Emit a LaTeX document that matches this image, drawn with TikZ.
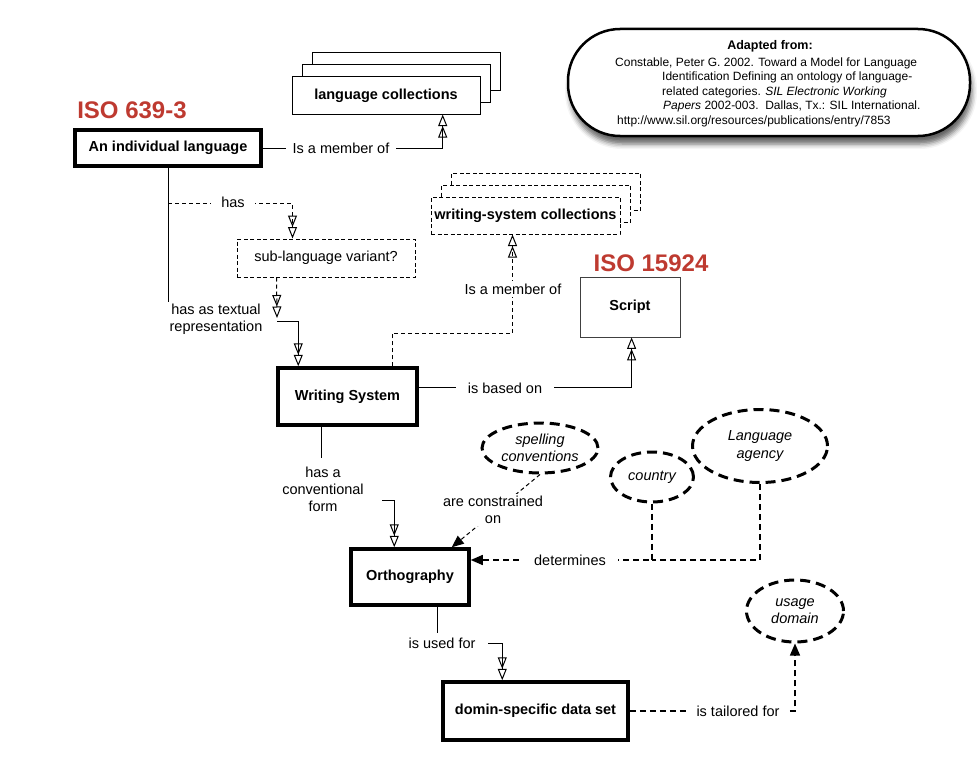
\documentclass[tikz,border=0pt]{standalone}
\usepackage{fontspec}
\setmainfont{Liberation Sans}
\usetikzlibrary{arrows.meta,shapes.geometric,calc,shadows.blur}
\definecolor{isored}{RGB}{190,58,48}
\begin{document}
\begin{tikzpicture}[x=1pt,y=-1pt,
  every node/.style={font=\fontsize{14.5}{17}\selectfont, inner sep=0pt},
  heavybox/.style={draw, line width=3.5pt, fill=white, align=center, font=\bfseries\fontsize{14.5}{17}\selectfont},
  thinbox/.style={draw, line width=1pt, fill=white, align=center, font=\bfseries\fontsize{14.5}{17}\selectfont},
  dashbox/.style={draw, line width=1pt, dash pattern=on 4pt off 2.5pt, fill=white, align=center},
  ellip/.style={ellipse, draw, line width=3pt, dash pattern=on 10pt off 6pt, fill=white, align=center, font=\itshape\fontsize{14.5}{17.5}\selectfont},
  isolbl/.style={text=isored, font=\bfseries\fontsize{24}{28}\selectfont},
  conn/.style={draw, line width=1pt},
  dconn/.style={draw, line width=1pt, dash pattern=on 4pt off 3pt},
  dconnb/.style={draw, line width=1.4pt, dash pattern=on 6pt off 4pt},
  dblarrow/.style={-{Triangle[open,length=11.5pt,width=9pt] Triangle[open,length=11.5pt,width=9pt]}},
  fillarrow/.style={-{Triangle[length=12pt,width=10pt]}},
  lbl/.style={fill=white, inner xsep=10pt, inner ysep=3pt, align=center}
]
\useasboundingbox (0,0) rectangle (977,768);

% reference box
\node[draw, line width=2.5pt, rounded corners=52pt, minimum width=402pt, minimum height=107pt, fill=white,
      blur shadow={shadow xshift=2pt, shadow yshift=-8pt, shadow blur radius=5pt, shadow opacity=60}] (ref) at (769,82.5) {};
\node[font=\bfseries\fontsize{12.5}{14}\selectfont] (refhead) at (770,46) {Adapted from:};
\node[anchor=north west, align=left, font=\fontsize{12}{14.5}\selectfont] (reftext) at (615,57.5)
  {Constable, Peter G. 2002. Toward a Model for Language\\
   \hspace*{47pt}Identification Defining an ontology of language-\\
   \hspace*{47pt}related categories. \textit{SIL Electronic Working}\\
   \hspace*{48pt}\textit{Papers} 2002-003.\ \ Dallas, Tx.: SIL International.\\
   \hspace*{2pt}http://www.sil.org/resources/publications/entry/7853};

% ISO labels
\node[isolbl] (iso1) at (132,110) {ISO 639-3};
\node[isolbl] (iso2) at (651,263) {ISO 15924};

% stacked collections
\node[thinbox, minimum width=188pt, minimum height=37pt] (langcollc) at (406,71.5) {};
\node[thinbox, minimum width=188pt, minimum height=37pt] (langcollb) at (396,83.5) {};
\node[thinbox, minimum width=188pt, minimum height=37pt] (langcoll) at (386,95.5) {language collections};

\node[dashbox, minimum width=189pt, minimum height=37pt] (wscollc) at (546,191.5) {};
\node[dashbox, minimum width=189pt, minimum height=37pt] (wscollb) at (536,203.5) {};
\node[dashbox, minimum width=189pt, minimum height=37pt, font=\bfseries\fontsize{14.5}{17}\selectfont] (wscoll) at (525.5,215.5) {writing-system collections};

% main boxes
\node[heavybox, minimum width=186pt, minimum height=36pt] (lang) at (168,148) {An individual language};
\node[dashbox, minimum width=178pt, minimum height=38pt] (sub) at (326,258) {sub-language variant?};
\node[draw=black!75, line width=0.8pt, fill=white, minimum width=100pt, minimum height=60pt, font=\bfseries\fontsize{14.5}{17}\selectfont] (script) at (630,307) {Script};
\node[heavybox, minimum width=139pt, minimum height=57pt] (ws) at (347.5,396.5) {Writing System};
\node[heavybox, minimum width=118pt, minimum height=56pt] (ortho) at (410,577) {Orthography};
\node[heavybox, minimum width=185pt, minimum height=58pt] (data) at (535.5,711) {domin-specific data set};

% ellipses
\node[ellip, minimum width=116pt, minimum height=50pt] (spell) at (540,448) {spelling\\conventions};
\node[ellip, minimum width=83pt, minimum height=50pt] (country) at (652,477) {country};
\node[ellip, minimum width=135pt, minimum height=73pt] (agency) at (760,446) {Language\\agency};
\node[ellip, minimum width=97pt, minimum height=62pt] (usage) at (795,611) {usage\\domain};

% connectors
\draw[conn, dblarrow] (lang.east) -| ($(langcoll.south west)!0.8!(langcoll.south east)$);

\coordinate (hasstart) at ($(lang.south)+(0,36)$);
\draw[dconn, dblarrow] (hasstart) -| ($(sub.north west)+(56,0)$);

\draw[conn] (lang.south) -- ++(0,134);
\coordinate (tj) at (277,321);
\draw[dconn, dblarrow] ($(sub.south west)+(40,0)$) -- ($(tj)+(0,-3)$);
\draw[conn, dblarrow] (tj) -| ($(ws.north west)+(22,0)$);

\draw[dconn, dblarrow] ($(ws.north west)+(116,0)$) -- ++(0,-33) -| ($(wscoll.south west)+(82,0)$);

\draw[conn, dblarrow] ($(ws.east)+(0,-9)$) -| ($(script.south west)+(52,0)$);

\draw[conn] ($(ws.south west)+(45,0)$) -- ++(0,31);
\coordinate (cj) at (382,500);
\draw[conn, dblarrow] (cj) -| ($(ortho.north west)+(45,0)$);

\draw[dconn, fillarrow] (spell.south) -- ($(ortho.north east)+(-19,0)$);

\coordinate (det) at ($(ortho.east)+(0,-17)$);
\draw[dconnb, fillarrow] (country.south) |- (det);
\draw[dconnb] (agency.south) |- (country.south |- det);

\draw[conn] ($(ortho.south west)+(88,0)$) -- ++(0,26);
\coordinate (uj) at (488,643);
\draw[conn, dblarrow] (uj) -| ($(data.north west)+(61,0)$);

\draw[dconnb, fillarrow] (data.east) -| (usage.south);

% labels
\node[lbl, inner xsep=7pt] (l1) at (341,148) {Is a member of};
\node[lbl] (l2) at (233,202) {has};
\node[align=center, font=\fontsize{14.5}{16.5}\selectfont] (l3) at (216,319) {has as textual\\representation};
\node[lbl, inner xsep=2pt, inner ysep=3pt] (l4) at (513,289) {Is a member of};
\node[lbl, inner xsep=12pt] (l5) at (505,388) {is based on};
\node[align=center] (l6) at (323,489) {has a\\conventional\\form};
\node[lbl, inner xsep=2pt, inner ysep=2pt, font=\fontsize{14.5}{17}\selectfont] (l7) at (493,510) {are constrained\\on};
\node[lbl, inner xsep=12pt] (l8) at (570,560) {determines};
\node (l9) at (442,643) {is used for};
\node[lbl, inner xsep=8pt] (l10) at (738,711) {is tailored for};
\end{tikzpicture}
\end{document}
